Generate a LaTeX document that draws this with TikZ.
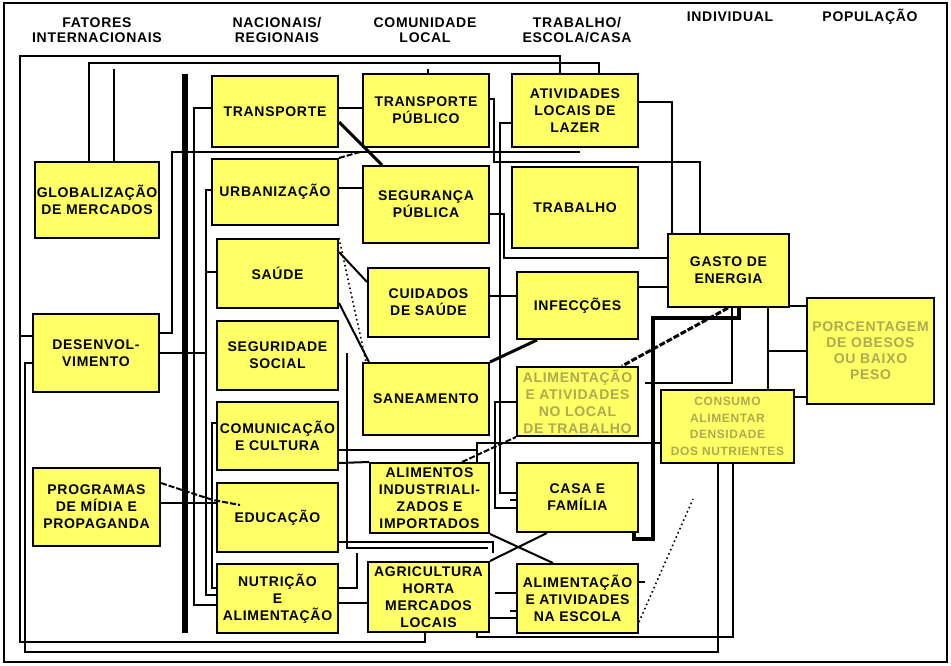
\documentclass[tikz,border=0pt]{standalone}
\usepackage{fontspec}
\setmainfont{Liberation Sans}[LetterSpace=5.0]
\usetikzlibrary{calc}
\definecolor{boxyel}{RGB}{255,255,102}
\definecolor{txtolive}{RGB}{175,170,80}
\tikzset{
  box/.style={draw=black, line width=2pt, fill=boxyel, inner sep=0pt, align=center,
    font=\fontsize{14}{17}\selectfont\bfseries},
  hdr/.style={inner sep=0pt, align=center, font=\fontsize{14}{15}\selectfont\bfseries},
  conn/.style={line width=2pt},
  heavy/.style={line width=3pt},
  bar/.style={line width=6pt},
  longdash/.style={dash pattern=on 6pt off 2pt},
  dots/.style={line width=1.6pt, dash pattern=on 1.6pt off 3pt},
}
\newcommand\mkbox[7][]{\node[box,#1,minimum width={(#5-#3)*1pt},minimum height={(#6-#4)*1pt}] (#2) at ({(#3+#5)/2},{(#4+#6)/2}) {#7};}
\begin{document}
\begin{tikzpicture}[x=1pt,y=-1pt]
\useasboundingbox (0,0) rectangle (951,666);
\draw[line width=1.5pt] (4,3) rectangle (947,662);
% headers
\node[hdr] (h1) at (97,30) {FATORES\\INTERNACIONAIS};
\node[hdr] (h2) at (277,30) {NACIONAIS/\\REGIONAIS};
\node[hdr] (h3) at (425,30) {COMUNIDADE\\LOCAL};
\node[hdr] (h4) at (577,30) {TRABALHO/\\ESCOLA/CASA};
\node[hdr] (h5) at (730,17) {INDIVIDUAL};
\node[hdr] (h6) at (870,17) {POPULAÇÃO};
% boxes
\mkbox{transp}{212}{76}{338}{147}{TRANSPORTE}
\mkbox{tpub}{363}{74}{489}{147}{TRANSPORTE\\PÚBLICO}
\mkbox{lazer}{512}{74}{638}{147}{ATIVIDADES\\LOCAIS DE\\LAZER}
\mkbox{glob}{35}{162}{159}{238}{GLOBALIZAÇÃO\\DE MERCADOS}
\mkbox{urb}{212}{159}{338}{225}{URBANIZAÇÃO}
\mkbox{seg}{363}{166}{489}{243}{SEGURANÇA\\PÚBLICA}
\mkbox{trab}{512}{167}{638}{248}{TRABALHO}
\mkbox{gasto}{668}{234}{789}{307}{GASTO DE\\ENERGIA}
\mkbox{saude}{217}{239}{338}{308}{SAÚDE}
\mkbox{cuid}{368}{268}{489}{337}{CUIDADOS\\DE SAÚDE}
\mkbox{infec}{517}{272}{638}{339}{INFECÇÕES}
\mkbox{desenv}{33}{314}{159}{392}{DESENVOL-\\VIMENTO}
\mkbox{segsoc}{217}{321}{338}{390}{SEGURIDADE\\SOCIAL}
\mkbox{san}{363}{363}{489}{435}{SANEAMENTO}
\mkbox[text=txtolive]{alimtrab}{517}{367}{638}{436}{ALIMENTAÇÃO\\E ATIVIDADES\\NO LOCAL\\DE TRABALHO}
\mkbox[text=txtolive,font=\fontsize{12}{16.5}\selectfont\bfseries]{consumo}{661}{390}{794}{463}{CONSUMO\\ALIMENTAR\\DENSIDADE\\DOS NUTRIENTES}
\mkbox[text=txtolive,font=\fontsize{14}{16}\selectfont\bfseries]{porc}{807}{298}{934}{404}{PORCENTAGEM\\DE OBESOS\\OU BAIXO\\PESO}
\mkbox{comun}{217}{402}{338}{470}{COMUNICAÇÃO\\E CULTURA}
\mkbox{prog}{33}{468}{160}{546}{PROGRAMAS\\DE MÍDIA E\\PROPAGANDA}
\mkbox{alimind}{370}{463}{489}{533}{ALIMENTOS\\INDUSTRIALI-\\ZADOS E\\IMPORTADOS}
\mkbox{casa}{517}{463}{638}{532}{CASA E\\FAMÍLIA}
\mkbox{educ}{217}{483}{338}{552}{EDUCAÇÃO}
\mkbox{nutr}{217}{564}{338}{633}{NUTRIÇÃO\\E\\ALIMENTAÇÃO}
\mkbox{agri}{368}{562}{489}{632}{AGRICULTURA\\HORTA\\MERCADOS\\LOCAIS}
\mkbox{escola}{517}{564}{638}{633}{ALIMENTAÇÃO\\E ATIVIDADES\\NA ESCOLA}
% free end points
\coordinate (bartop) at (185,74);
\coordinate (barbot) at (185,633);
\coordinate (g114) at (114,69);
\coordinate (t428) at (428,69);
\coordinate (a580) at (580,152);
\coordinate (c645) at (645,383);
\coordinate (v347) at (347,353);
\coordinate (d693) at (693,499);
\coordinate (s645) at (645,582);
% vertical bar
\draw[bar] (bartop) -- (barbot);
% frame-like connectors
\draw[conn] (lazer.north -| 560,0) -- (560,56) -- (20,56) -- (20,642) -- (425,642) -- (agri.south -| 425,0);
\draw[conn] (20,336) -- (desenv.west |- 0,336);
\draw[conn] (desenv.west |- 0,363) -- (25,363) -- (25,652) -- (718,652) -- (consumo.south -| 718,0);
\draw[conn] (glob.north -| 89,0) -- (89,63) -- (599,63) -- (lazer.north -| 599,0);
\draw[conn] (g114) -- (glob.north -| g114);
\draw[conn] (t428) -- (tpub.north -| t428);
% national column buses
\draw[conn] (transp.west |- 0,108) -- (194,108) -- (194,605) -- (nutr.west |- 0,605);
\draw[conn] (urb.west |- 0,190) -- (206,190) -- (206,595) -- (nutr.west |- 0,595);
\draw[conn] (206,272) -- (saude.west |- 0,272);
\draw[conn] (desenv.east |- 0,353) -- (206,353);
\draw[conn] (comun.west |- 0,423) -- (212,423) -- (212,588) -- (nutr.west |- 0,588);
\draw[conn] (desenv.east |- 0,333) -- (172,333) -- (172,152) -- (a580);
% upper links
\draw[conn] (transp.east |- 0,108) -- (tpub.west |- 0,108);
\draw[heavy] (transp.east |- 0,122) -- (seg.north -| 382,0);
\draw[conn] (urb.east |- 0,188) -- (seg.west |- 0,188);
\draw[conn,longdash] (urb.north east) -- (360,152);
\draw[conn] (tpub.east |- 0,99) -- (494,99) -- (494,162) -- (700,162) -- (gasto.north -| 700,0);
\draw[conn] (lazer.west |- 0,123) -- (500,123) -- (500,493) -- (casa.west |- 0,493);
\draw[conn] (lazer.east |- 0,102) -- (672,102) -- (gasto.north -| 672,0);
\draw[conn] (seg.east |- 0,214) -- (504,214) -- (504,258) -- (gasto.west |- 0,258);
\draw[conn] (cuid.east |- 0,296) -- (infec.west |- 0,296);
\draw[conn] (infec.east |- 0,287) -- (gasto.west |- 0,287);
\draw[heavy] (infec.south -| 537,0) -- (san.north east);
\draw[conn] (saude.east |- 0,252) -- (cuid.west |- 0,282);
\draw[conn] (saude.east |- 0,303) -- (san.north -| 369,0);
\draw[dots] (saude.north east) -- (san.north -| 366,0);
% work / home links
\draw[conn] (alimtrab.west |- 0,402) -- (495,402) -- (495,508) -- (casa.west |- 0,508);
\draw[conn] (510,500) -- (casa.west |- 0,500);
\draw[heavy,longdash] (gasto.south -| 728,0) -- (alimtrab.north -| 622,0);
\draw[conn] (c645) -- (732,383) -- (gasto.south -| 732,0);
\draw[line width=3.5pt] (gasto.south -| 739,0) -- (739,318) -- (653,318) -- (653,539) -- (634,539) -- (casa.south -| 634,0);
% individual / population
\draw[conn] (gasto.east |- 0,306) -- (porc.west |- 0,306);
\draw[conn] (gasto.south -| 768,0) -- (consumo.north -| 768,0);
\draw[conn] (768,351) -- (porc.west |- 0,351);
\draw[conn] (consumo.east |- 0,397) -- (porc.west |- 0,397);
% lower links
\draw[conn] (comun.east |- 0,450) -- (477,450) -- (477,443) -- (consumo.west |- 0,443);
\draw[conn] (477,450) -- (alimind.north -| 477,0);
\draw[conn] (comun.east |- 0,463) -- (alimind.north west);
\draw[conn,longdash] (alimind.north -| 462,0) -- (alimtrab.south west);
\draw[conn] (educ.east |- 0,542) -- (493,542) -- (493,553);
\draw[conn] (v347) -- (347,548) -- (488,548);
\draw[conn] (nutr.east |- 0,588) -- (357,588) -- (357,553);
\draw[conn] (nutr.east |- 0,603) -- (agri.west |- 0,603);
\draw[conn] (agri.east |- 0,618) -- (escola.west |- 0,618);
\draw[conn] (495,593) -- (escola.west |- 0,593);
\draw[conn] (510,611) -- (escola.west |- 0,611);
\draw[conn] (alimind.south east) -- (escola.north -| 553,0);
\draw[conn] (casa.south -| 547,0) -- (agri.north east);
\draw[conn] (escola.east |- 0,582) -- (s645);
\draw[dots] (escola.east |- 0,622) -- (d693);
\draw[conn] (agri.south -| 477,0) -- (477,637) -- (733,637) -- (consumo.south -| 733,0);
% media programmes
\draw[conn] (prog.east |- 0,503) -- (educ.west |- 0,503);
\draw[conn,longdash] (prog.east |- 0,483) -- (185,491) -- (213,500) -- (240,505);
\end{tikzpicture}
\end{document}
